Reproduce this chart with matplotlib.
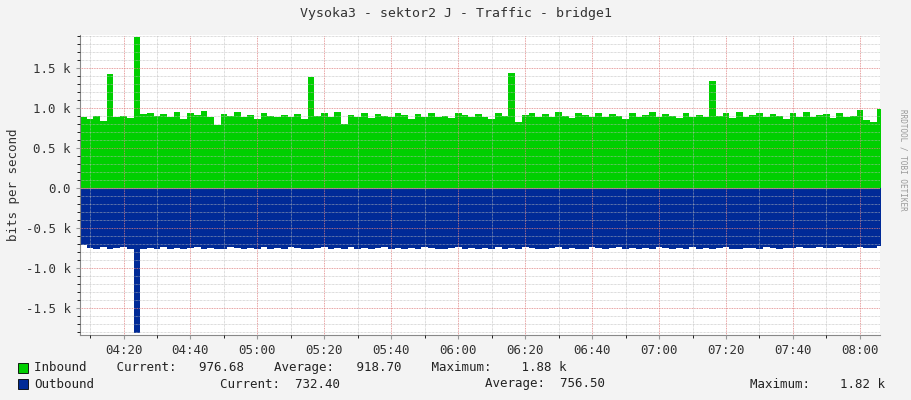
import matplotlib.pyplot as plt
import matplotlib.dates as mdates
from datetime import datetime, timedelta

# 2-minute samples starting 04:07
start = datetime(2024, 1, 1, 4, 7)
inbound = [
    0.88, 0.86, 0.90, 0.84, 1.42, 0.89, 0.90, 0.87, 1.88, 0.92,
    0.94, 0.90, 0.92, 0.88, 0.95, 0.86, 0.93, 0.91, 0.96, 0.89,
    0.78, 0.92, 0.90, 0.95, 0.88, 0.91, 0.86, 0.93, 0.90, 0.88,
    0.91, 0.89, 0.92, 0.86, 1.38, 0.90, 0.93, 0.88, 0.95, 0.80,
    0.91, 0.89, 0.94, 0.87, 0.92, 0.90, 0.88, 0.93, 0.91, 0.86,
    0.92, 0.89, 0.94, 0.88, 0.90, 0.87, 0.93, 0.91, 0.88, 0.92,
    0.89, 0.86, 0.93, 0.90, 1.44, 0.82, 0.91, 0.94, 0.89, 0.92,
    0.88, 0.95, 0.90, 0.87, 0.93, 0.91, 0.89, 0.94, 0.88, 0.92,
    0.90, 0.86, 0.93, 0.89, 0.91, 0.95, 0.88, 0.92, 0.90, 0.87,
    0.94, 0.89, 0.91, 0.88, 1.33, 0.90, 0.93, 0.87, 0.95, 0.89,
    0.91, 0.94, 0.88, 0.92, 0.90, 0.86, 0.93, 0.89, 0.95, 0.88,
    0.91, 0.92, 0.87, 0.94, 0.89, 0.90, 0.97, 0.85, 0.82, 0.98,
]
outbound = [
    0.72, 0.75, 0.76, 0.74, 0.76, 0.75, 0.74, 0.76, 1.82, 0.77,
    0.75, 0.76, 0.74, 0.77, 0.75, 0.76, 0.75, 0.74, 0.76, 0.75,
    0.77, 0.76, 0.74, 0.75, 0.76, 0.75, 0.77, 0.74, 0.76, 0.75,
    0.76, 0.74, 0.75, 0.77, 0.76, 0.75, 0.74, 0.76, 0.75, 0.76,
    0.74, 0.77, 0.75, 0.76, 0.75, 0.74, 0.76, 0.75, 0.77, 0.75,
    0.76, 0.74, 0.75, 0.76, 0.77, 0.75, 0.74, 0.76, 0.75, 0.76,
    0.75, 0.77, 0.74, 0.76, 0.75, 0.76, 0.74, 0.75, 0.77, 0.76,
    0.75, 0.74, 0.76, 0.75, 0.76, 0.77, 0.74, 0.75, 0.76, 0.75,
    0.74, 0.76, 0.75, 0.77, 0.75, 0.76, 0.74, 0.75, 0.76, 0.75,
    0.77, 0.74, 0.76, 0.75, 0.76, 0.75, 0.74, 0.76, 0.77, 0.75,
    0.75, 0.76, 0.74, 0.75, 0.76, 0.75, 0.75, 0.74, 0.75, 0.75,
    0.74, 0.75, 0.75, 0.74, 0.75, 0.75, 0.74, 0.75, 0.75, 0.73,
]
times = [start + timedelta(minutes=2 * i) for i in range(len(inbound) + 1)]
inb = inbound + [inbound[-1]]
outb = [-v for v in outbound] + [-outbound[-1]]

plt.rcParams['font.family'] = 'DejaVu Sans Mono'
fig = plt.figure(figsize=(9.11, 4), dpi=100, facecolor='#F3F3F3')
ax = fig.add_axes([80 / 911, 65 / 400, 800 / 911, 300 / 400])
ax.set_facecolor('white')

ax.fill_between(times, 0, inb, step='post', color='#00CF00', lw=0)
ax.fill_between(times, 0, outb, step='post', color='#002A97', lw=0)

ax.set_xlim(start, datetime(2024, 1, 1, 8, 6))
ax.set_ylim(-1.84, 1.91)

ax.xaxis.set_major_locator(mdates.MinuteLocator(byminute=[0, 20, 40]))
ax.xaxis.set_minor_locator(mdates.MinuteLocator(byminute=range(0, 60, 10)))
ax.xaxis.set_major_formatter(mdates.DateFormatter('%H:%M'))
ax.set_yticks([-1.5, -1.0, -0.5, 0.0, 0.5, 1.0, 1.5])
ax.set_yticklabels(['-1.5 k', '-1.0 k', '-0.5 k', '0.0', '0.5 k', '1.0 k', '1.5 k'])
ax.set_yticks([x / 10 for x in range(-18, 20)], minor=True)

ax.grid(which='minor', color='#BBBBBB', ls=(0, (1, 1)), lw=0.5)
ax.grid(which='major', color='#E08080', ls=(0, (1, 1)), lw=0.6)
ax.set_axisbelow(False)
ax.tick_params(labelsize=9, length=3, color='#999999', labelcolor='#333333')
ax.tick_params(which='minor', length=2)
for s in ['top', 'right']:
    ax.spines[s].set_visible(False)
for s in ['left', 'bottom']:
    ax.spines[s].set_color('#888888')
ax.axhline(0, color='#888888', lw=0.8)
ax.set_ylabel('bits per second', fontsize=9, color='#333333')

fig.text(0.5, 1 - 14 / 400, 'Vysoka3 - sektor2 J - Traffic - bridge1',
         ha='center', va='center', fontsize=9.5, color='#333333')
fig.text(903 / 911, 0.5 + 40 / 400, 'RRDTOOL / TOBI OETIKER', rotation=270,
         ha='center', va='center', fontsize=5.5, color='#999999')

fig.patches.append(plt.Rectangle((18 / 911, 1 - 373 / 400), 10 / 911, 10 / 400,
                                 transform=fig.transFigure, fc='#00CF00', ec='black', lw=0.6))
fig.patches.append(plt.Rectangle((18 / 911, 1 - 389 / 400), 10 / 911, 10 / 400,
                                 transform=fig.transFigure, fc='#002A97', ec='black', lw=0.6))
fig.text(34 / 911, 1 - 368 / 400,
         'Inbound    Current:   976.68    Average:   918.70    Maximum:    1.88 k',
         va='center', fontsize=9, color='#222222')
for x, t in [(34, 'Outbound'), (220, 'Current:  732.40'),
             (485, 'Average:  756.50'), (750, 'Maximum:    1.82 k')]:
    fig.text(x / 911, 1 - 384 / 400, t, va='center', fontsize=9, color='#222222')

fig.savefig('out.png', dpi=100, facecolor=fig.get_facecolor())
